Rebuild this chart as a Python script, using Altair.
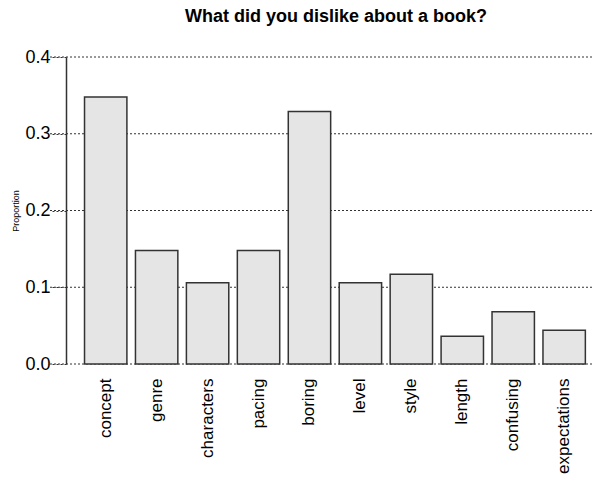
import altair as alt
import pandas as pd

categories = ["concept", "genre", "characters", "pacing", "boring",
              "level", "style", "length", "confusing", "expectations"]
proportions = [0.348, 0.148, 0.106, 0.148, 0.329,
               0.106, 0.117, 0.036, 0.068, 0.044]
y_ticks = [0.0, 0.1, 0.2, 0.3, 0.4]
chart_title = ["What did you dislike about a book?"]

df = pd.DataFrame({"reason": categories, "prop": proportions})
grid_df = pd.DataFrame({"tick": y_ticks})
title_df = pd.DataFrame({"t": chart_title})

W, H = 526, 307
FONT = "Liberation Sans"

x_scale = alt.Scale(domain=categories, paddingInner=0.168, paddingOuter=0.247, align=0.736)
y_scale = alt.Scale(domain=[0, 0.4], nice=False, zero=True)

grid = alt.Chart(grid_df).mark_rule(
    color="#333333", strokeWidth=1, strokeDash=[2, 2]
).encode(
    y=alt.Y("tick:Q", scale=y_scale),
    x=alt.value(-16),
    x2=alt.value(W),
)

bars = alt.Chart(df).mark_bar(
    fill="#e5e5e5", stroke="#333333", strokeWidth=1.5
).encode(
    x=alt.X("reason:N", scale=x_scale, sort=categories,
            axis=alt.Axis(title=None, labelAngle=-90, labelAlign="right",
                          labelBaseline="middle", labelPadding=14,
                          domain=False, ticks=False, labelFont=FONT,
                          labelFontSize=17, labelColor="#000000")),
    y=alt.Y("prop:Q", scale=y_scale,
            axis=alt.Axis(title="Proportion", values=y_ticks, format=".1f",
                          grid=False, domain=True, domainColor="#333333",
                          domainWidth=1.5, ticks=True, tickSize=16,
                          tickColor="#333333", tickDash=[2, 2], tickWidth=1,
                          labelPadding=0, labelFont=FONT, labelFontSize=18,
                          labelColor="#000000", titleFont=FONT,
                          titleFontSize=9, titleFontWeight="normal",
                          titleColor="#000000", titlePadding=4)),
)

title = alt.Chart(title_df).mark_text(
    font=FONT, fontSize=18, fontWeight="bold", color="#000000",
    align="center", baseline="alphabetic"
).encode(
    text="t:N",
    x=alt.value(270),
    y=alt.value(-35),
)

chart = alt.layer(grid, bars, title).properties(
    width=W, height=H,
    autosize=alt.AutoSizeParams(type="none"),
    padding={"left": 58, "top": 49, "right": 0, "bottom": 112},
).configure_view(stroke=None)

chart.save("out.html", embed_options={"renderer": "svg", "actions": False})
